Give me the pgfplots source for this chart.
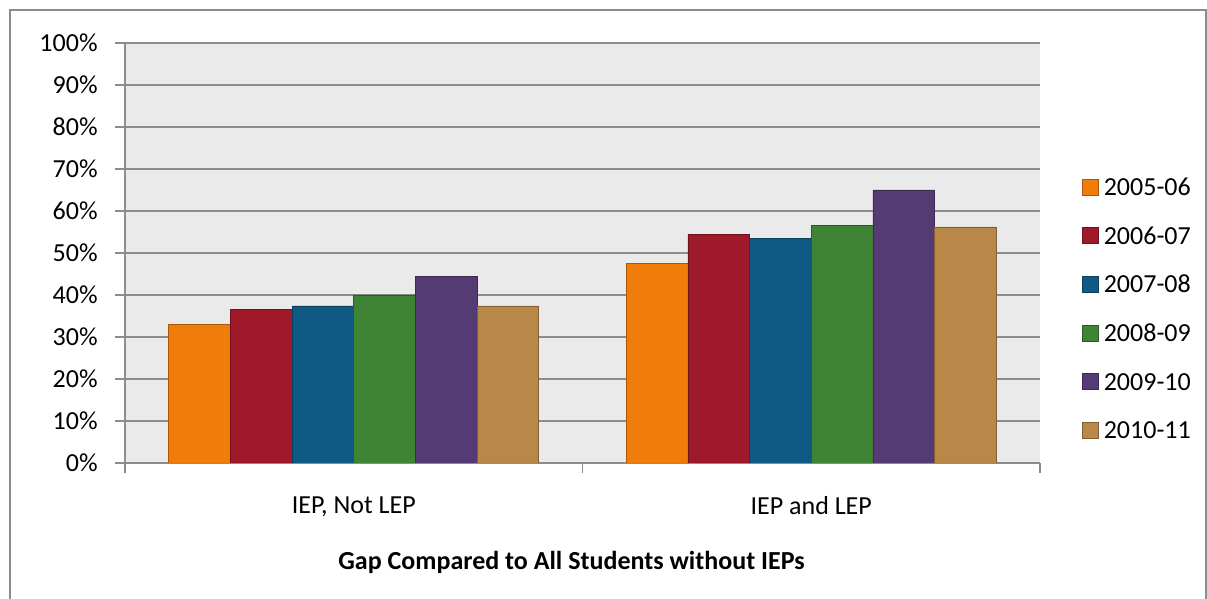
\documentclass[border=0pt]{standalone}
\usepackage{fontspec}
\setmainfont{Carlito}
\usepackage{pgfplots}
\pgfplotsset{compat=1.18}
\definecolor{c1}{HTML}{F07D0A}
\definecolor{c2}{HTML}{9E1A2B}
\definecolor{c3}{HTML}{0E5A85}
\definecolor{c4}{HTML}{3F8434}
\definecolor{c5}{HTML}{553B73}
\definecolor{c6}{HTML}{B98848}
\definecolor{bgc}{HTML}{EAEAEA}
\definecolor{axc}{HTML}{8C8C8C}
\newcommand\fsz{\fontsize{13pt}{15.6pt}\selectfont}
\begin{document}
\begin{tikzpicture}[font=\fsz]
\useasboundingbox (-62.5pt,-68pt) rectangle (541pt,231.5pt);
\draw[axc, line width=1pt] (-57.5pt,-70pt) -- (-57.5pt,226.25pt) -- (540.5pt,226.25pt) -- (540.5pt,-70pt);
\begin{axis}[
  at={(0,0)}, anchor=south west,
  scale only axis, width=457.5pt, height=210pt,
  xmin=-0.5, xmax=1.5, ymin=0, ymax=100,
  ybar=0pt, bar width=30.83pt,
  axis background/.style={fill=bgc},
  axis x line*=bottom, axis y line*=left,
  axis line style={draw=axc, line width=0.9pt},
  tick align=outside,
  major tick length=5pt,
  tick style={draw=axc, line width=0.8pt},
  ymajorgrids, grid style={draw=axc, line width=0.8pt},
  ytick={0,10,...,100},
  yticklabels={0\%,10\%,20\%,30\%,40\%,50\%,60\%,70\%,80\%,90\%,100\%},
  yticklabel style={anchor=east, inner sep=0pt, xshift=-8.5pt, font=\fsz},
  xtick={-0.5,0.5,1.5},
  xticklabels={,,},
  extra x ticks={0,1},
  extra x tick labels={{IEP, Not LEP},{IEP and LEP}},
  extra x tick style={major tick length=0pt, grid=none, xticklabel style={anchor=north, inner sep=0pt, yshift=-16.5pt, font=\fsz}},
  legend style={at={(1.0459,0.6767)}, anchor=north west, draw=none, fill=none,
    inner sep=0pt, outer sep=0pt, row sep=15.8pt, column sep=2.5pt, font=\fsz,
    nodes={inner sep=0pt, text height=8.2pt, text depth=0pt, anchor=base west}},
  legend cell align=left,
  legend image code/.code={\fill[#1] (0pt,0.3pt) rectangle (8pt,8.3pt);},
]
\addplot[fill=c1, draw=c1!70!black, line width=0.4pt] coordinates {(0,32.9) (1,47.5)};
\addplot[fill=c2, draw=c2!70!black, line width=0.4pt] coordinates {(0,36.5) (1,54.5)};
\addplot[fill=c3, draw=c3!70!black, line width=0.4pt] coordinates {(0,37.4) (1,53.5)};
\addplot[fill=c4, draw=c4!70!black, line width=0.4pt] coordinates {(0,40.0) (1,56.6)};
\addplot[fill=c5, draw=c5!70!black, line width=0.4pt] coordinates {(0,44.5) (1,65.0)};
\addplot[fill=c6, draw=c6!70!black, line width=0.4pt] coordinates {(0,37.4) (1,56.2)};
\legend{2005-06,2006-07,2007-08,2008-09,2009-10,2010-11}
\end{axis}
\node[font=\fsz\bfseries] at (223.25pt,-49.8pt) {Gap Compared to All Students without IEPs};
\end{tikzpicture}
\end{document}
